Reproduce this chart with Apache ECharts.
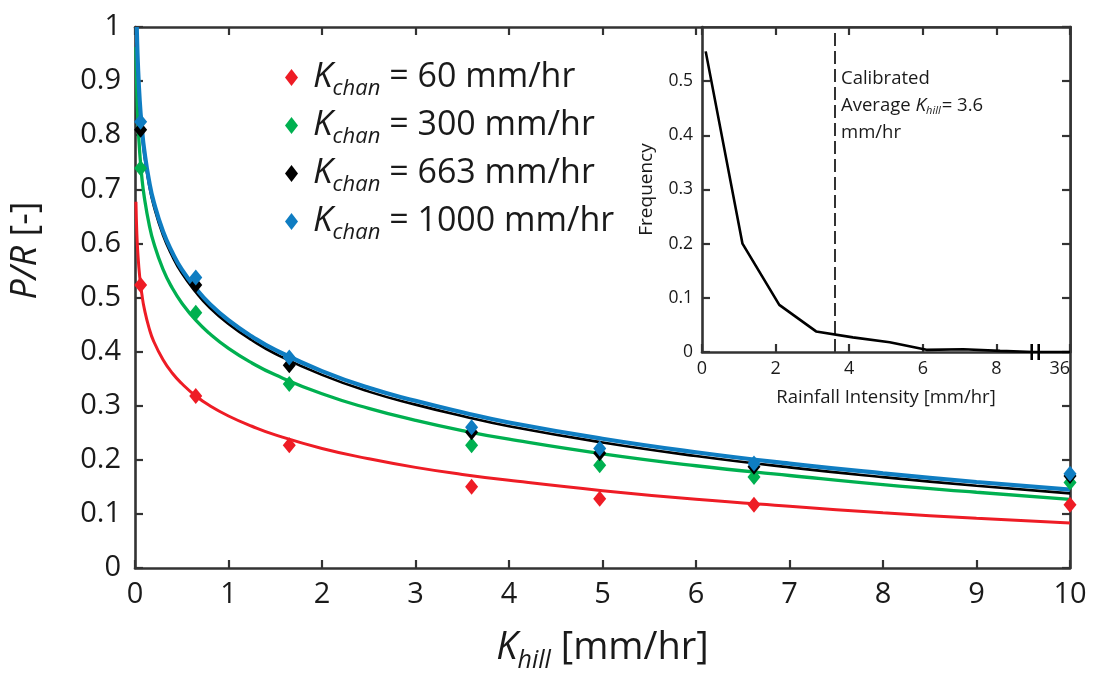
<!DOCTYPE html>
<html>
<head>
<meta charset="utf-8">
<script src="https://cdn.jsdelivr.net/npm/echarts@6/dist/echarts.min.js"></script>
<style>
  html, body { margin: 0; padding: 0; background: #fff; }
  #chart { width: 1101px; height: 679px; }
</style>
</head>
<body>
<div id="chart"></div>
<script>
// Channel conductivities (mm/hr), one series each
const chanRates = [60, 300, 663, 1000];
const chanColors = ['#ee1c25', '#00b050', '#000000', '#0f7dc2'];

// Simulated P/R at the sampled hillslope conductivities
const khillPoints = [0.06, 0.65, 1.65, 3.6, 4.97, 6.62, 10];
const pr60   = [0.523, 0.318, 0.227, 0.150, 0.128, 0.117, 0.117];
const pr300  = [0.739, 0.472, 0.340, 0.227, 0.190, 0.168, 0.158];
const pr663  = [0.810, 0.523, 0.375, 0.251, 0.212, 0.187, 0.170];
const pr1000 = [0.825, 0.537, 0.389, 0.260, 0.221, 0.193, 0.174];

// Fitted curves (shared x samples, plus each curve's first point at the top)
const fitX     = [0.02, 0.03, 0.05, 0.075, 0.1, 0.15, 0.2, 0.3, 0.4, 0.5, 0.65, 0.8, 1, 1.25, 1.5, 2, 2.5, 3, 3.5, 4, 5, 6, 7, 8, 9, 10];
const fit60    = [0.617, 0.583, 0.539, 0.504, 0.479, 0.444, 0.419, 0.385, 0.360, 0.341, 0.318, 0.300, 0.281, 0.262, 0.246, 0.221, 0.202, 0.186, 0.173, 0.162, 0.143, 0.127, 0.114, 0.102, 0.092, 0.083];
const fit300   = [0.879, 0.830, 0.769, 0.719, 0.685, 0.636, 0.601, 0.552, 0.517, 0.490, 0.458, 0.433, 0.406, 0.379, 0.357, 0.322, 0.295, 0.273, 0.254, 0.238, 0.211, 0.189, 0.171, 0.154, 0.140, 0.127];
const fit663   = [0.983, 0.928, 0.858, 0.803, 0.764, 0.709, 0.670, 0.615, 0.576, 0.545, 0.510, 0.481, 0.451, 0.421, 0.396, 0.357, 0.326, 0.302, 0.281, 0.262, 0.232, 0.207, 0.186, 0.168, 0.152, 0.138];
const fit1000  = [0.990, 0.935, 0.865, 0.810, 0.771, 0.716, 0.677, 0.622, 0.583, 0.552, 0.517, 0.488, 0.458, 0.428, 0.403, 0.364, 0.333, 0.309, 0.288, 0.269, 0.239, 0.214, 0.193, 0.175, 0.159, 0.145];
const fitStart = [[0.01, 0.677], [0.01, 0.963], [0.018, 1.0], [0.019, 1.0]];

// Inset: rainfall intensity frequency distribution
const rainX    = [0.1, 1.1, 2.1, 3.1, 4.1, 5.1, 6.1, 7.1, 8.1, 9.0, 10];
const rainFreq = [0.555, 0.200, 0.087, 0.038, 0.027, 0.018, 0.004, 0.005, 0.002, 0.0, 0.0];
const insetXLabels = ['0', '2', '4', '6', '8', '36'];
const axisBreakAt = [8.96, 9.15];
const calibratedKhill = 3.6;

const FONT = 'Open Sans';
const TXT = '#1a1a1a';
const FRAME = '#333';

const prSeries = [pr60, pr300, pr663, pr1000];
const fitSeries = [fit60, fit300, fit663, fit1000];
const fitWidths = [3, 3.3, 2.6, 4.2];
const names = chanRates.map(r => 'Kchan = ' + r + ' mm/hr');

function frameAxis(extra) {
  return Object.assign({
    type: 'value',
    axisLine: { show: true, onZero: false, lineStyle: { color: FRAME, width: 2.6 } },
    axisTick: { show: true, inside: true, length: 8, lineStyle: { color: FRAME, width: 2.2 } },
    splitLine: { show: false }
  }, extra);
}

const series = [];
fitSeries.forEach((vals, i) => {
  series.push({
    type: 'line',
    name: 'fit ' + chanRates[i],
    xAxisIndex: 0, yAxisIndex: 0,
    data: [fitStart[i]].concat(fitX.map((x, j) => [x, vals[j]])),
    smooth: 0.5,
    symbol: 'none',
    lineStyle: { color: chanColors[i], width: fitWidths[i] },
    clip: true, z: 2,
    silent: true
  });
});
prSeries.forEach((vals, i) => {
  series.push({
    type: 'scatter',
    name: names[i],
    xAxisIndex: 0, yAxisIndex: 0,
    data: khillPoints.map((x, j) => [x, vals[j]]),
    symbol: 'diamond',
    symbolSize: [13, 16],
    itemStyle: { color: chanColors[i], opacity: 1 },
    clip: false, z: 3
  });
});
series.push({
  type: 'line',
  name: 'frequency',
  xAxisIndex: 2, yAxisIndex: 2,
  data: rainX.map((x, j) => [x, rainFreq[j]]),
  symbol: 'none',
  lineStyle: { color: '#000', width: 2.6 },
  z: 6,
  markLine: {
    silent: true, symbol: 'none',
    label: { show: false },
    lineStyle: { color: '#000', type: [13, 5], width: 1.6 },
    data: [{ xAxis: calibratedKhill }]
  }
});
// double bar marking the broken inset axis
series.push({
  type: 'custom',
  name: 'axis break',
  xAxisIndex: 2, yAxisIndex: 2,
  data: axisBreakAt.map(x => [x, 0]),
  z: 7,
  renderItem: function (params, api) {
    const p = api.coord([api.value(0), api.value(1)]);
    return {
      type: 'line',
      shape: { x1: p[0], y1: p[1] - 8, x2: p[0], y2: p[1] + 8 },
      style: { stroke: '#000', lineWidth: 2.6 }
    };
  }
});

const chart = echarts.init(document.getElementById('chart'), null, { renderer: 'canvas' });
chart.setOption({
  animation: false,
  backgroundColor: '#fff',
  textStyle: { fontFamily: FONT, color: TXT },
  grid: [
    { left: 135, right: 31, top: 27, bottom: 111 },
    { left: 702, right: 31, top: 27, bottom: 327, show: true, backgroundColor: '#fff', borderWidth: 0, z: 4 }
  ],
  legend: {
    data: names,
    orient: 'vertical',
    left: 280, top: 55,
    icon: 'diamond',
    itemWidth: 13, itemHeight: 17,
    itemGap: 8.5,
    selectedMode: false,
    formatter: function (name) {
      const r = name.split(' = ')[1];
      return '{k|K}{s|chan}{t| = ' + r + '}';
    },
    textStyle: {
      fontFamily: FONT, color: TXT,
      rich: {
        k: { fontFamily: FONT, fontStyle: 'italic', fontSize: 35, color: TXT, padding: [0, 0, 0, 10] },
        s: { fontFamily: FONT, fontStyle: 'italic', fontSize: 22, color: TXT, padding: [22, 0, 0, 0] },
        t: { fontFamily: FONT, fontSize: 34, color: TXT }
      }
    }
  },
  xAxis: [
    frameAxis({
      gridIndex: 0, position: 'bottom', min: 0, max: 10, interval: 1,
      axisLabel: { fontFamily: FONT, fontSize: 29, color: TXT, margin: 12 },
      name: '{k|K}{s|hill}{t| [mm/hr]}',
      nameLocation: 'middle', nameGap: 56,
      nameTextStyle: {
        rich: {
          k: { fontFamily: FONT, fontStyle: 'italic', fontSize: 38, color: TXT },
          s: { fontFamily: FONT, fontStyle: 'italic', fontSize: 25, color: TXT, padding: [24, 0, 0, 0] },
          t: { fontFamily: FONT, fontSize: 38, color: TXT }
        }
      }
    }),
    frameAxis({ gridIndex: 0, position: 'top', min: 0, max: 10, interval: 1, axisLabel: { show: false } }),
    frameAxis({
      gridIndex: 1, position: 'bottom', min: 0, max: 10, interval: 2, z: 5,
      axisLabel: {
        fontFamily: FONT, fontSize: 18, color: TXT, margin: 8, alignMaxLabel: 'right',
        formatter: v => insetXLabels[Math.round(v / 2)]
      },
      name: 'Rainfall Intensity [mm/hr]',
      nameLocation: 'middle', nameGap: 36,
      nameTextStyle: { fontFamily: FONT, fontSize: 18.5, color: TXT }
    }),
    frameAxis({ gridIndex: 1, position: 'top', min: 0, max: 10, interval: 2, z: 5, axisLabel: { show: false } })
  ],
  yAxis: [
    frameAxis({
      gridIndex: 0, position: 'left', min: 0, max: 1, interval: 0.1,
      axisLabel: { fontFamily: FONT, fontSize: 29, color: TXT, margin: 14 },
      name: '{i|P/R}{t| [-]}',
      nameLocation: 'middle', nameGap: 91, nameRotate: 90,
      nameTextStyle: {
        padding: [0, 0, 0, 94],
        rich: {
          i: { fontFamily: FONT, fontStyle: 'italic', fontSize: 36, color: TXT },
          t: { fontFamily: FONT, fontSize: 36, color: TXT }
        }
      }
    }),
    frameAxis({ gridIndex: 0, position: 'right', min: 0, max: 1, interval: 0.1, axisLabel: { show: false } }),
    frameAxis({
      gridIndex: 1, position: 'left', min: 0, max: 0.6, interval: 0.1, z: 5,
      axisLabel: { fontFamily: FONT, fontSize: 17.5, color: TXT, margin: 9, showMaxLabel: false },
      name: 'Frequency',
      nameLocation: 'middle', nameGap: 46, nameRotate: 90,
      nameTextStyle: { fontFamily: FONT, fontSize: 19, color: TXT }
    }),
    frameAxis({ gridIndex: 1, position: 'right', min: 0, max: 0.6, interval: 0.1, z: 5, axisLabel: { show: false } })
  ],
  graphic: [{
    type: 'text',
    left: 841, top: 65, z: 10,
    style: {
      text: 'Calibrated\nAverage {k|K}{s|hill}= ' + calibratedKhill + '\nmm/hr',
      fontFamily: FONT, fontSize: 18.5, fill: TXT, lineHeight: 27,
      rich: {
        k: { fontFamily: FONT, fontStyle: 'italic', fontSize: 19, fill: TXT, lineHeight: 27 },
        s: { fontFamily: FONT, fontStyle: 'italic', fontSize: 11, fill: TXT, padding: [10, 1, 0, 0], lineHeight: 27 }
      }
    }
  }],
  series: series
});
</script>
</body>
</html>
